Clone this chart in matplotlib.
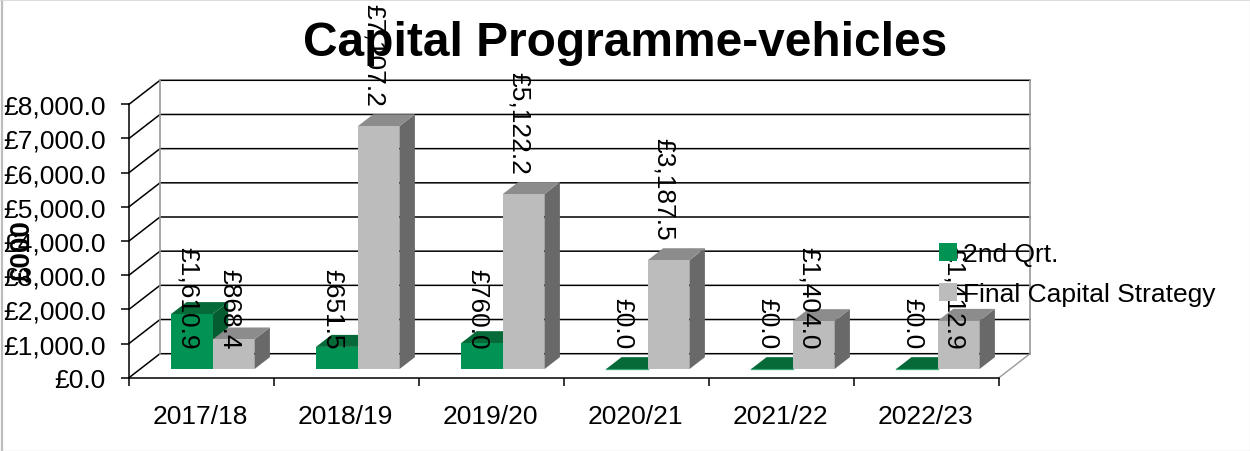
import matplotlib
matplotlib.use('Agg')
import matplotlib.pyplot as plt
from matplotlib.lines import Line2D
from matplotlib.patches import Polygon, Rectangle

plt.rcParams['font.family'] = ['Liberation Sans', 'DejaVu Sans']

categories = ['2017/18', '2018/19', '2019/20', '2020/21', '2021/22', '2022/23']
qrt2 = [1610.9, 651.5, 760.0, 0.0, 0.0, 0.0]
final = [868.4, 7107.2, 5122.2, 3187.5, 1404.0, 1412.9]
y_ticks = [0, 1000, 2000, 3000, 4000, 5000, 6000, 7000, 8000]

W, H = 1250, 452
GREEN, GREEN_TOP, GREEN_SIDE = '#009353', '#066a38', '#055c30'
GREY, GREY_TOP, GREY_SIDE = '#bcbcbc', '#8c8c8c', '#696969'

fig = plt.figure(figsize=(W / 100, H / 100), dpi=100)
# axes box is the front plane of the fake 3D plot
ax = fig.add_axes([129 / W, 1 - 378.7 / H, 870 / W, 273.4 / H])
ax.set_xlim(0, 6)
ax.set_ylim(0, 8000)
for s in ax.spines.values():
    s.set_visible(False)

px_x = 6 / 870
px_y = 8000 / 273.4
back_x, back_y = 31 * px_x, 24 * px_y

# walls and gridlines
for t in y_ticks:
    ax.plot([0, back_x, 6 + back_x], [t, t + back_y, t + back_y], color='black',
            lw=1.1, clip_on=False, zorder=1)
ax.plot([back_x, back_x], [back_y, 8000 + back_y], color='#999999', lw=1.2, clip_on=False, zorder=1.1)
ax.plot([6 + back_x, 6 + back_x], [back_y, 8000 + back_y], color='#999999', lw=1.2, clip_on=False, zorder=1.1)
ax.plot([6, 6 + back_x], [0, back_y], color='#999999', lw=1.0, clip_on=False, zorder=1.1)
ax.plot([0, 0], [0, 8000], color='black', lw=1.1, clip_on=False, zorder=1.2)
ax.plot([0, 6], [0, 0], color='black', lw=1.1, clip_on=False, zorder=1.2)

ax.set_xticks(range(7))
ax.set_xticklabels([])
ax.set_yticks(y_ticks)
ax.set_yticklabels(['£{:,.1f}'.format(t) for t in y_ticks], fontsize=19)
ax.tick_params(axis='both', length=5.8, width=1.1, pad=11)
for i, c in enumerate(categories):
    ax.text(i + 0.49, -1130, c, ha='center', va='center', fontsize=19)


def bar3d(x0, w, v, front, top, side):
    base = 250
    dx, dy = 15.5 * px_x, 12 * px_y
    ax.add_patch(Polygon([(x0 + w, base), (x0 + w + dx, base + dy), (x0 + w + dx, base + v + dy),
                          (x0 + w, base + v)], fc=side, ec='none', clip_on=False, zorder=3))
    ax.add_patch(Polygon([(x0, base + v), (x0 + dx, base + v + dy), (x0 + w + dx, base + v + dy),
                          (x0 + w, base + v)], fc=top, ec='none', clip_on=False, zorder=3))
    if v > 0:
        ax.add_patch(Rectangle((x0, base), w, v, fc=front, ec='none', clip_on=False, zorder=3))
    else:
        ax.plot([x0, x0 + w], [base, base], color=front, lw=1, alpha=0.7, clip_on=False, zorder=3.1)


# green first so the grey bar sits over its side face
bar_w = 41.7 * px_x
for i, v in enumerate(qrt2):
    bar3d(i + 42 * px_x, bar_w, v, GREEN, GREEN_TOP, GREEN_SIDE)
for i, v in enumerate(final):
    bar3d(i + 42 * px_x + bar_w, bar_w, v, GREY, GREY_TOP, GREY_SIDE)


def value_label(x, v):
    # short bars have their label pinned just above the floor
    y = 250 + v + 600 if v > 2000 else 850
    ax.text(x, y, '£{:,.1f}'.format(v), rotation=270, ha='center', va='bottom',
            fontsize=19, clip_on=False, zorder=5)


for i, v in enumerate(qrt2):
    value_label(i + 58.5 * px_x, v)
for i, v in enumerate(final):
    value_label(i + 100 * px_x, v)

fig.text(625 / W, 1 - 44 / H, 'Capital Programme-vehicles', ha='center', va='center',
         fontsize=34.5, fontweight='bold')
fig.text(23 / W, 1 - 251 / H, "£000", rotation=90, ha='center', va='center',
         fontsize=20, fontweight='bold')

# legend
handles = [Rectangle((0, 0), 1, 1, fc=GREEN, ec='none'), Rectangle((0, 0), 1, 1, fc=GREY, ec='none')]
leg = ax.legend(handles, ['2nd Qrt.', 'Final Capital Strategy'], loc='upper left',
                bbox_to_anchor=((935 - 129) / 870 - 0.004, (378 - 235) / 273), frameon=False, fontsize=19,
                handlelength=0.65, handleheight=0.65, handletextpad=0.25, labelspacing=0.59,
                borderpad=0.3, borderaxespad=0)
leg.set_zorder(6)

# grey frame of the pasted chart
fig.add_artist(Line2D([2 / W, 2 / W], [0, 1], color='#bdbdbd', lw=1.6))
fig.add_artist(Line2D([0, 1], [1 - 0.5 / H, 1 - 0.5 / H], color='#d4d4d4', lw=1.2))
fig.add_artist(Line2D([0, 1], [1 - 451.5 / H, 1 - 451.5 / H], color='#e0e0e0', lw=1))
fig.add_artist(Line2D([1 - 0.5 / W, 1 - 0.5 / W], [0, 1], color='#e8e8e8', lw=1))

fig.savefig('out.png', dpi=100)
